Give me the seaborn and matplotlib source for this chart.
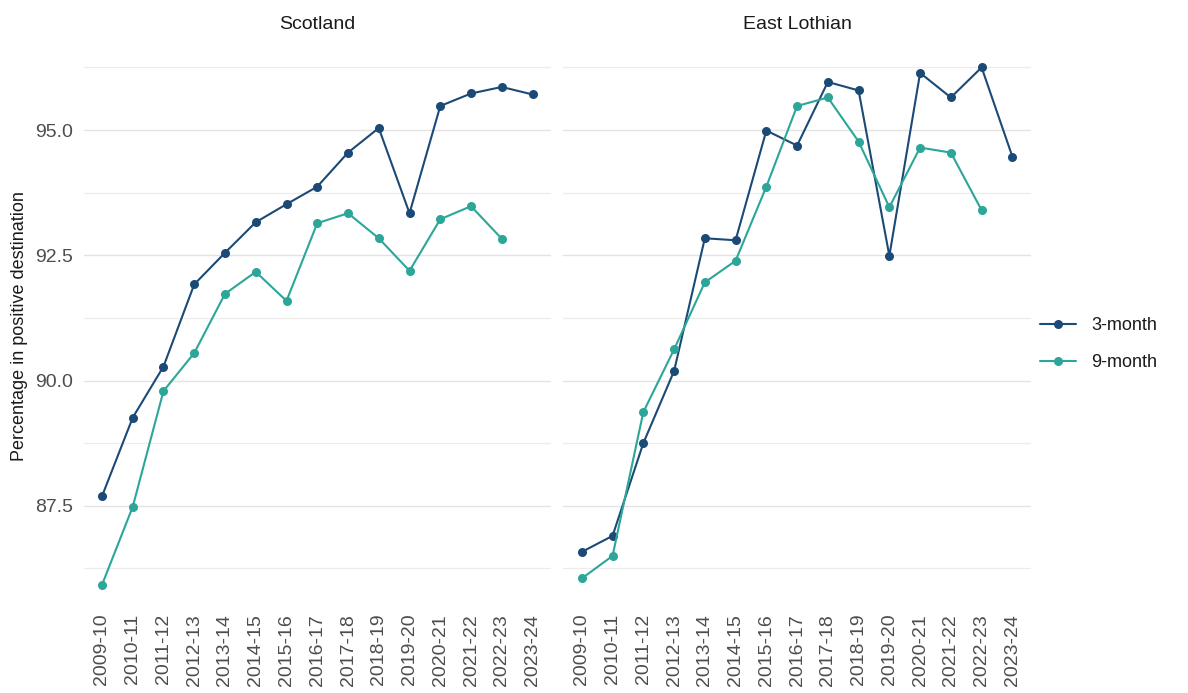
import pandas as pd
import matplotlib.pyplot as plt
from matplotlib.ticker import FixedLocator
import seaborn as sns

# school leaver destinations, percentage in positive destination
years = ["2009-10", "2010-11", "2011-12", "2012-13", "2013-14", "2014-15", "2015-16",
         "2016-17", "2017-18", "2018-19", "2019-20", "2020-21", "2021-22", "2022-23", "2023-24"]

scotland_3m = [87.69, 89.26, 90.28, 91.92, 92.55, 93.16, 93.52, 93.87, 94.55, 95.04,
               93.34, 95.48, 95.73, 95.86, 95.71]
scotland_9m = [85.92, 87.48, 89.79, 90.55, 91.73, 92.17, 91.59, 93.14, 93.34, 92.84,
               92.19, 93.22, 93.48, 92.83]  # no 9-month figure yet for 2023-24

east_lothian_3m = [86.58, 86.90, 88.75, 90.19, 92.84, 92.80, 94.99, 94.69, 95.96, 95.79,
                   92.49, 96.14, 95.65, 96.25, 94.47]
east_lothian_9m = [86.05, 86.50, 89.37, 90.62, 91.96, 92.39, 93.87, 95.48, 95.65, 94.77,
                   93.46, 94.65, 94.55, 93.40]

areas = ["Scotland", "East Lothian"]
series = {
    ("Scotland", "3-month"): scotland_3m,
    ("Scotland", "9-month"): scotland_9m,
    ("East Lothian", "3-month"): east_lothian_3m,
    ("East Lothian", "9-month"): east_lothian_9m,
}

rows = []
for (area, kind), vals in series.items():
    for yr, v in zip(years, vals):
        rows.append({"area": area, "series": kind, "year": yr, "value": v})
df = pd.DataFrame(rows)

sns.set_style("white")
plt.rcParams['font.family'] = ['Liberation Sans', 'DejaVu Sans']

palette = {"3-month": "#1b4a77", "9-month": "#2ba699"}

fig = plt.figure(figsize=(11.88, 6.93), dpi=100)
ax1 = fig.add_axes([0.0703, 0.1183, 0.3935, 0.822])
ax2 = fig.add_axes([0.4742, 0.1183, 0.3935, 0.822])

for ax, area in zip([ax1, ax2], areas):
    sub = df[df["area"] == area]
    sns.lineplot(data=sub, x="year", y="value", hue="series", palette=palette,
                 marker="o", markersize=6.5, markeredgewidth=0, linewidth=1.5,
                 ax=ax, legend=(ax is ax2), zorder=3)
    ax.set_xlim(-0.6, 14.6)
    ax.set_ylim(85.40, 96.77)
    ax.yaxis.set_major_locator(FixedLocator([87.5, 90.0, 92.5, 95.0]))
    ax.yaxis.set_minor_locator(FixedLocator([86.25, 88.75, 91.25, 93.75, 96.25]))
    ax.grid(axis="y", which="major", color="#e3e3e3", linewidth=1.0)
    ax.grid(axis="y", which="minor", color="#ececec", linewidth=0.9)
    ax.set_axisbelow(True)
    for s in ax.spines.values():
        s.set_visible(False)
    ax.tick_params(axis="both", which="both", length=0, labelsize=14, colors="#4d4d4d")
    ax.tick_params(axis="x", pad=2)
    ax.tick_params(axis="y", pad=7.5)
    plt.setp(ax.get_xticklabels(), rotation=90)
    ax.set_xlabel("")
    ax.set_title(area, fontsize=14, color="#1a1a1a", pad=9)

ax1.set_yticklabels(["87.5", "90.0", "92.5", "95.0"])
ax1.set_ylabel("Percentage in positive destination", fontsize=13, color="#1a1a1a", labelpad=5)
ax2.set_ylabel("")
ax2.set_yticklabels([])

handles, labels = ax2.get_legend_handles_labels()
ax2.get_legend().remove()
fig.legend(handles, labels, loc="center left", bbox_to_anchor=(0.862, 0.503),
           frameon=False, fontsize=13, handlelength=2.0, labelspacing=1.1,
           labelcolor="#1a1a1a")

fig.savefig("out.png", dpi=100)
